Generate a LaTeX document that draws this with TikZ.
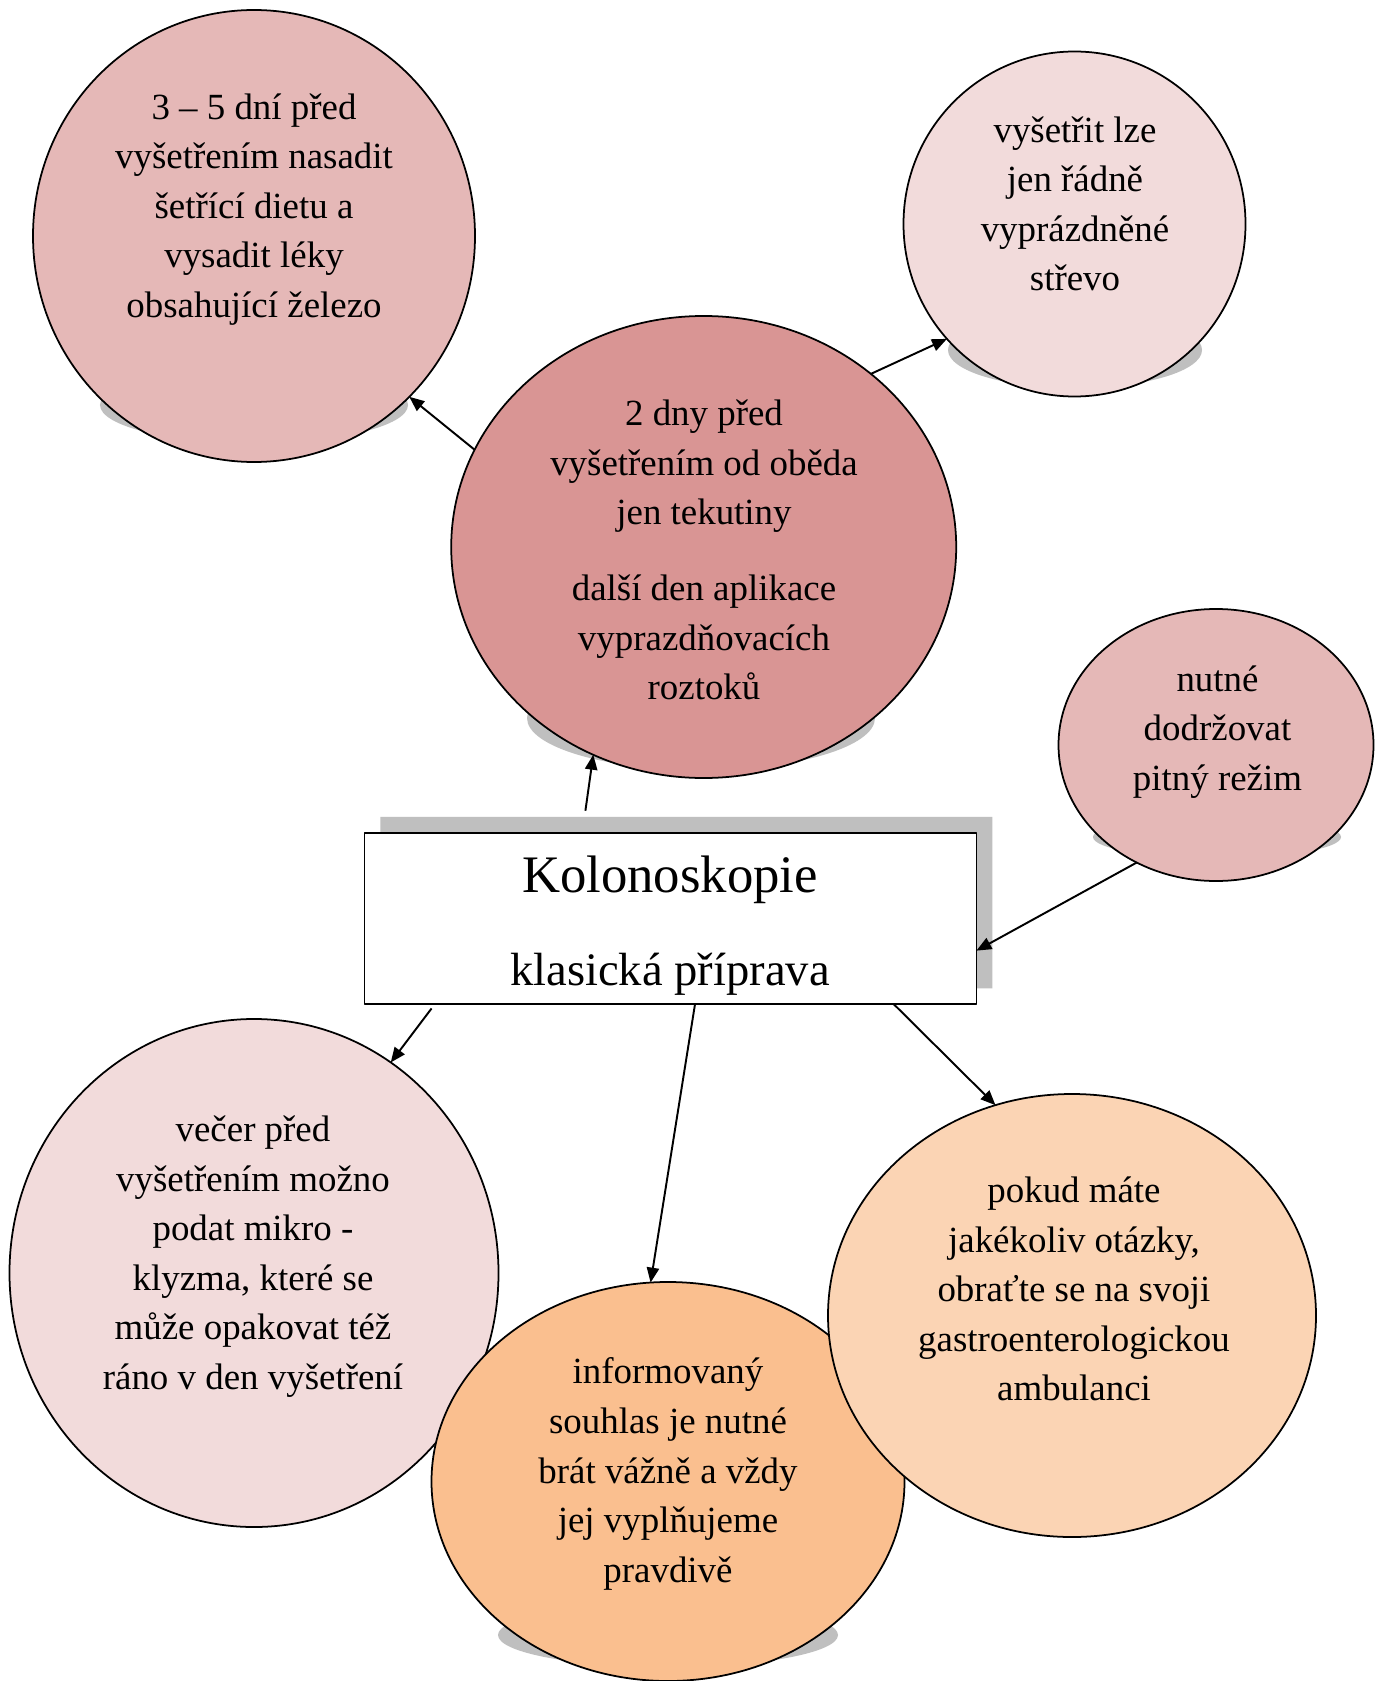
\documentclass[tikz,border=0pt]{standalone}
\usepackage{fontspec}
\setmainfont{Liberation Serif}
\usetikzlibrary{arrows.meta,calc,shapes.geometric}
\definecolor{ruzova1}{HTML}{F2DBDB}
\definecolor{ruzova2}{HTML}{E5B8B7}
\definecolor{ruzova3}{HTML}{D99594}
\definecolor{oranzova1}{HTML}{FBD4B4}
\definecolor{oranzova2}{HTML}{FABF8F}
\definecolor{sedy}{HTML}{BFBFBF}

\tikzset{
  bublina/.style={ellipse, draw=black, line width=1pt, inner sep=0pt, outer sep=0pt},
  popis/.style={align=center, font=\fontsize{21}{28.2}\selectfont},
  ramecek/.style={rectangle, draw=black, line width=1pt, fill=white, inner sep=0pt, outer sep=0pt},
}

\begin{document}
\begin{tikzpicture}[x=0.2mm, y=-0.2mm, >={Triangle[length=8.5pt,width=7pt]}, line join=round]
  % Pozadí a rozměr
  \fill[white] (0,0) rectangle (1374,1681);
  \useasboundingbox (0,0) rectangle (1374,1681);

  % Horní bubliny
  \fill[sedy] (254,405) ellipse [x radius=30.8mm, y radius=7.6mm];
  \node[bublina, fill=ruzova2, minimum width=88.4mm, minimum height=90.4mm] (dny35) at (254,236) {};
  \node[popis] (t35) at (254,209.5) {3 – 5 dní před\\vyšetřením nasadit\\šetřící dietu a\\vysadit léky\\obsahující železo};

  \fill[sedy] (1075,350) ellipse [x radius=25.4mm, y radius=7.6mm];
  \node[bublina, fill=ruzova1, minimum width=68.4mm, minimum height=69mm] (strevo) at (1074.5,224) {};
  \node[popis] (tstrevo) at (1075,204) {vyšetřit lze\\jen řádně\\vyprázdněné\\střevo};

  \fill[sedy] (701,718) ellipse [x radius=34.8mm, y radius=10.4mm];
  \node[bublina, fill=ruzova3, minimum width=101mm, minimum height=92.4mm] (dny2) at (703.7,547) {};
  \node[popis] (tdny2) at (704,550) {2 dny před\\vyšetřením od oběda\\jen tekutiny\\[14.8pt]další den aplikace\\vyprazdňovacích\\roztoků};

  \fill[sedy] (1217,837) ellipse [x radius=24.8mm, y radius=4.2mm];
  \node[bublina, fill=ruzova2, minimum width=63mm, minimum height=54.4mm] (pitny) at (1216,745) {};
  \node[popis] (tpitny) at (1217.5,732) {nutné\\dodržovat\\pitný režim};

  % Hlavní rámeček
  \fill[sedy] (686.4,902.5) rectangle +(306,-85.75) rectangle +(-306,85.75);
  \node[ramecek, minimum width=122.4mm, minimum height=34.3mm] (box) at (670.4,918.5) {};
  \node[anchor=base, font=\fontsize{30}{36}\selectfont] (nazev) at (670,892) {Kolonoskopie};
  \node[anchor=base, font=\fontsize{26.5}{32}\selectfont] (podnazev) at (670,985) {klasická příprava};

  % Spodní bubliny
  \fill[sedy] (253,1451) ellipse [x radius=33mm, y radius=9.4mm];
  \node[bublina, fill=ruzova1, minimum width=97.8mm, minimum height=101.6mm] (vecer) at (254,1273) {};
  \node[popis] (tvecer) at (253,1256.5) {večer před\\vyšetřením možno\\podat mikro -\\klyzma, které se\\může opakovat též\\ráno v den vyšetření};

  \fill[sedy] (668,1635) ellipse [x radius=34mm, y radius=6.4mm];
  \node[bublina, fill=oranzova2, minimum width=94.6mm, minimum height=79.8mm] (souhlas) at (668,1481.5) {};
  \node[popis] (tsouhlas) at (668,1474) {informovaný\\souhlas je nutné\\brát vážně a vždy\\jej vyplňujeme\\pravdivě};

  \node[bublina, fill=oranzova1, minimum width=97.6mm, minimum height=88.6mm] (otazky) at (1072,1315.5) {};
  \node[popis] (totazky) at (1074,1289) {pokud máte\\jakékoliv otázky,\\obraťte se na svoji\\gastroenterologickou\\ambulanci};

  % Šipky
  \coordinate (zacatek) at ($(box.north)+(-85,-22)$);
  \draw[->, line width=1.1pt] (zacatek) -- (dny2.242);
  \draw[->, line width=1.1pt] (dny2.157) -- (dny35.314);
  \draw[->, line width=1.1pt] (dny2.46) -- (strevo.222);
  \draw[->, line width=1.1pt] (pitny.236) -- (box.354);
  \draw[->, line width=1.1pt, shorten <=3pt] (box.200) -- (vecer.57);
  \draw[->, line width=1.1pt] (box.286) -- (souhlas.95);
  \draw[->, line width=1.1pt] (box.339) -- (otazky.110);
\end{tikzpicture}
\end{document}
